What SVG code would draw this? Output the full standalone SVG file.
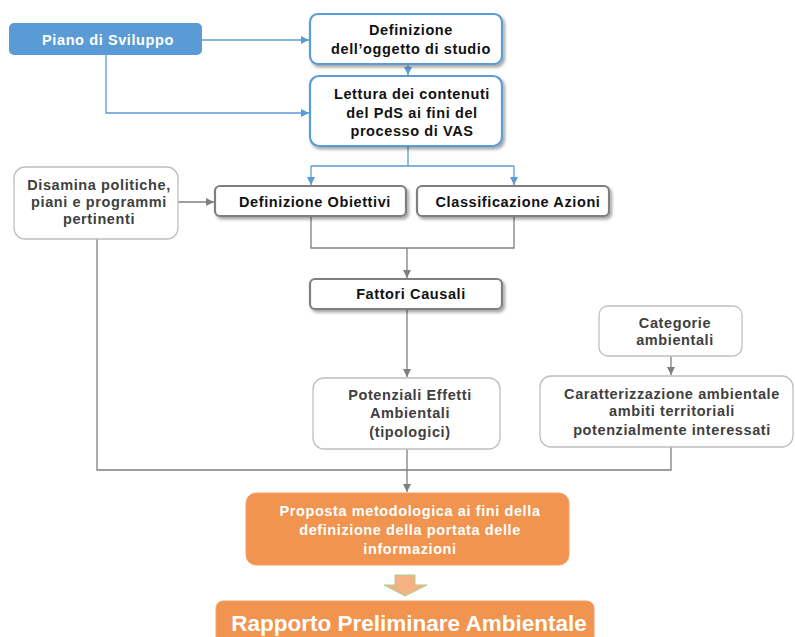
<svg xmlns="http://www.w3.org/2000/svg" width="795" height="637" viewBox="0 0 795 637">
<defs>
<style>
text{font-family:"Liberation Sans",Arial,sans-serif;font-weight:bold;text-anchor:middle;font-size:14.5px;letter-spacing:0.6px}
.dk{fill:#111}
.gr{fill:#404040}
.wh{fill:#fff}
.blue{fill:#fff;stroke:#5B9BD5;stroke-width:2.2}
.gbox{fill:#fff;stroke:#7f7f7f;stroke-width:2.2}
.lbox{fill:#fff;stroke:#bfbfbf;stroke-width:1.3}
.or{fill:#F0944F;stroke:#F4A26A;stroke-width:1}
.cb{fill:none;stroke:#5B9BD5;stroke-width:1.3}
.cg{fill:none;stroke:#7f7f7f;stroke-width:1.3}
</style>
<marker id="ab" viewBox="0 0 10 10" refX="10" refY="5" markerWidth="8" markerHeight="8" markerUnits="userSpaceOnUse" orient="auto"><path d="M0,0 L10,5 L0,10 z" fill="#5B9BD5"/></marker>
<marker id="ag" viewBox="0 0 10 10" refX="10" refY="5" markerWidth="8" markerHeight="8" markerUnits="userSpaceOnUse" orient="auto"><path d="M0,0 L10,5 L0,10 z" fill="#7f7f7f"/></marker>
<filter id="sh" x="-10%" y="-20%" width="130%" height="160%"><feDropShadow dx="2" dy="2.5" stdDeviation="1.6" flood-color="#000" flood-opacity="0.35"/></filter>
</defs>
<rect width="795" height="637" fill="#fff"/>
<g id="connectors">
<path class="cb" d="M202,40 H309" marker-end="url(#ab)"/>
<path class="cb" d="M408,64 V75" marker-end="url(#ab)"/>
<path class="cb" d="M106,55 V113 H309" marker-end="url(#ab)"/>
<path class="cb" d="M408,146 V166 M311,166 H514"/>
<path class="cb" d="M311,166 V185" marker-end="url(#ab)"/>
<path class="cb" d="M514,166 V185" marker-end="url(#ab)"/>
<path class="cg" d="M178,202 H214" marker-end="url(#ag)"/>
<path class="cg" d="M311,217 V248 H514 V217"/>
<path class="cg" d="M407,248 V278" marker-end="url(#ag)"/>
<path class="cg" d="M407,310 V377" marker-end="url(#ag)"/>
<path class="cg" d="M671,356 V375" marker-end="url(#ag)"/>
<path class="cg" d="M97,239 V470 H671 V447"/>
<path class="cg" d="M407,449 V492" marker-end="url(#ag)"/>
</g>
<g id="piano">
<rect x="9" y="23" width="193" height="32" rx="5" fill="#5B9BD5"/>
<text class="wh" x="108" y="45">Piano di Sviluppo</text>
</g>
<g id="definizione">
<rect class="blue" x="310" y="14" width="192" height="50" rx="8" filter="url(#sh)"/>
<text class="dk" x="411" y="35">Definizione</text>
<text class="dk" x="411" y="54">dell’oggetto di studio</text>
</g>
<g id="lettura">
<rect class="blue" x="310" y="76" width="192" height="70" rx="9" filter="url(#sh)"/>
<text class="dk" x="412" y="99">Lettura dei contenuti</text>
<text class="dk" x="412" y="118">del PdS ai fini del</text>
<text class="dk" x="412" y="136">processo di VAS</text>
</g>
<g id="disamina">
<rect class="lbox" x="14" y="167" width="164" height="72" rx="11"/>
<text class="gr" x="99" y="190">Disamina politiche,</text>
<text class="gr" x="99" y="207">piani e programmi</text>
<text class="gr" x="99" y="224">pertinenti</text>
</g>
<g id="obiettivi">
<rect class="gbox" x="215" y="186" width="191" height="30" rx="5" filter="url(#sh)"/>
<text class="dk" x="315" y="207">Definizione Obiettivi</text>
</g>
<g id="azioni">
<rect class="gbox" x="417" y="186" width="192" height="30" rx="5" filter="url(#sh)"/>
<text class="dk" x="518" y="207">Classificazione Azioni</text>
</g>
<g id="fattori">
<rect class="gbox" x="310" y="279" width="192" height="30" rx="5" filter="url(#sh)"/>
<text class="dk" x="411" y="299">Fattori Causali</text>
</g>
<g id="potenziali">
<rect class="lbox" x="313" y="378" width="187" height="71" rx="11"/>
<text class="gr" x="410" y="400">Potenziali Effetti</text>
<text class="gr" x="410" y="418">Ambientali</text>
<text class="gr" x="410" y="437">(tipologici)</text>
</g>
<g id="categorie">
<rect class="lbox" x="599" y="306" width="143" height="50" rx="9"/>
<text class="gr" x="675" y="328">Categorie</text>
<text class="gr" x="675" y="345">ambientali</text>
</g>
<g id="caratterizzazione">
<rect class="lbox" x="540" y="376" width="253" height="71" rx="11"/>
<text class="gr" x="672" y="399">Caratterizzazione ambientale</text>
<text class="gr" x="672" y="416">ambiti territoriali</text>
<text class="gr" x="672" y="435">potenzialmente interessati</text>
</g>
<g id="proposta">
<rect class="or" x="246" y="493" width="323" height="72" rx="10"/>
<text class="wh" x="410" y="516">Proposta metodologica ai fini della</text>
<text class="wh" x="410" y="535">definizione della portata delle</text>
<text class="wh" x="410" y="554">informazioni</text>
</g>
<g id="freccia">
<path d="M395,575 H415 V585 H427 L405,596 L384,585 H395 Z" fill="#F4B183" stroke="#A9D18E" stroke-width="1"/>
</g>
<g id="rapporto">
<rect class="or" x="216" y="601" width="378" height="45" rx="7"/>
<text class="wh" x="409" y="631" style="font-size:22.5px;letter-spacing:0px">Rapporto Preliminare Ambientale</text>
</g>
</svg>
